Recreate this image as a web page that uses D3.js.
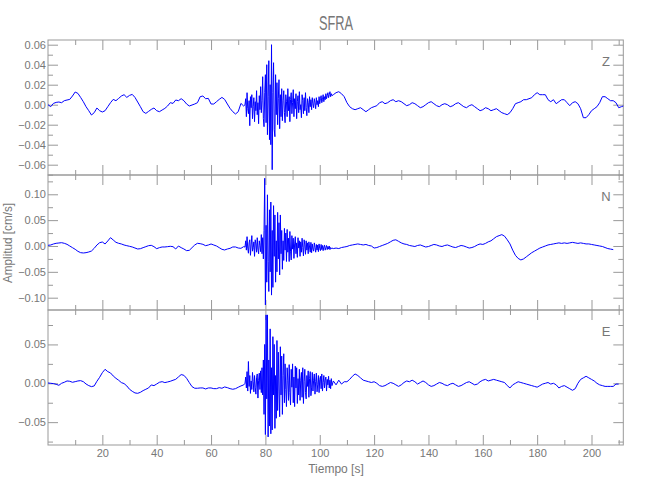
<!DOCTYPE html>
<html>
<head>
<meta charset="utf-8">
<script src="https://cdn.jsdelivr.net/npm/d3@7"></script>
<style>
  body { margin: 0; padding: 0; background: #fff; }
  text { font-family: "Liberation Sans", Arial, sans-serif; fill: #777; }
</style>
</head>
<body>
<div id="chart"></div>
<script>
// Station and component names
const station = "SFRA";
const components = ["Z", "N", "E"];

// Each trace: 1 s samples from t=0 to 72, 0.25 s samples from 72.5 to 104.5, 1 s samples from 105 on
const burstStart = 72.5, burstStep = 0.25, postStart = 105;

const zPre = [
  0.000, -0.002, 0.0013, 0.0023, 0.0027, 0.002, 0.004, 0.0047, 0.0053, 0.0087,
  0.0127, 0.0113, 0.0073, 0.003, -0.002, -0.006, -0.0103, -0.008, -0.0033, -0.006,
  -0.0073, -0.006, -0.002, 0.002, 0.0053, 0.004, 0.0063, 0.0087, 0.010, 0.0073,
  0.0093, 0.0103, 0.0073, 0.0027, -0.002, -0.007, -0.0087, -0.0067, -0.0047, -0.0033,
  -0.006, -0.007, -0.0053, -0.0037, -0.0013, 0.002, 0.0013, 0.0047, 0.004, 0.006,
  0.004, 0.0007, -0.0013, -0.0003, 0.0007, 0.002, 0.008, 0.0087, 0.006, 0.0063,
  0.0007, 0.0007, 0.003, 0.0053, 0.0073, 0.0053, 0.0007, -0.0037, -0.007, -0.0093,
  -0.007, 0.0013, -0.0013
];
const zBurst = [
  0.000, 0.006, -0.012, 0.012, -0.004, -0.009, 0.004, -0.021, 0.008, -0.003,
  0.010, -0.014, -0.002, 0.007, -0.017, 0.003, -0.006, 0.014, -0.010, 0.002,
  -0.019, 0.009, -0.005,
  0.018, -0.008, 0.004, 0.028, -0.014, -0.022, 0.012, 0.030,
  -0.018, 0.040, -0.030, 0.008, 0.044, -0.035,
  0.020, -0.040, 0.060, -0.065,
  0.012, 0.042, -0.025, -0.032, 0.030, -0.010,
  0.022, -0.020, 0.006, 0.025, -0.024, 0.010, -0.012, 0.016,
  -0.016, 0.004, 0.014, -0.008, -0.018, 0.010, 0.003, -0.012, 0.016, -0.006,
  0.008, -0.017, 0.005, 0.012, -0.009, 0.002,
  0.015, -0.012, 0.006, -0.004, 0.011, -0.014, 0.003, 0.009, -0.008, 0.013,
  -0.005, 0.000, -0.013, 0.010, 0.004, -0.009, 0.007, -0.006, 0.012, -0.003,
  -0.011, 0.006, 0.002, -0.008,
  0.008, -0.002, 0.005, -0.005, 0.007, 0.001, -0.003, 0.006, 0.002, -0.004,
  0.007, 0.000, 0.004, -0.002, 0.008, 0.001,
  0.006, 0.009, 0.002, 0.005, 0.010, 0.003, 0.008, 0.005, 0.011, 0.006,
  0.009, 0.012, 0.007, 0.010, 0.013, 0.008, 0.011, 0.009
];
const zPost = [
  0.010, 0.012, 0.013, 0.011, 0.008, 0.002, -0.002, -0.004, -0.005, -0.004,
  -0.003, -0.005, -0.007, -0.005, -0.003, -0.002, -0.001, 0.002, 0.003, 0.001,
  0.002, 0.004, 0.005, 0.003, 0.004, 0.003, 0.001, -0.001, 0.000, 0.002,
  0.001, -0.001, -0.003, -0.002, 0.000, 0.002, 0.003, 0.001, -0.001, -0.002,
  0.000, 0.001, 0.000, -0.002, -0.001, 0.001, 0.002, 0.000, -0.002, -0.003,
  -0.001, 0.000, -0.002, -0.004, -0.006, -0.005, -0.003, -0.004, -0.006, -0.005,
  -0.004, -0.006, -0.008, -0.009, -0.010, -0.008, -0.004, 0.001, 0.002, 0.003,
  0.005, 0.005, 0.006, 0.007, 0.010, 0.012, 0.010, 0.010, 0.010, 0.005,
  0.003, 0.005, 0.001, 0.003, 0.005, 0.005, 0.002, -0.001, 0.002, 0.003,
  0.001, -0.004, -0.013, -0.013, -0.010, -0.006, -0.004, -0.002, 0.002, 0.008,
  0.008, 0.006, 0.004, 0.004, 0.002, -0.003, -0.002, -0.001
];

const nPre = [
  0.0013, 0.0019, 0.0039, 0.0052, 0.0058, 0.0064, 0.0052, 0.0032, 0.000, -0.0032,
  -0.0064, -0.0103, -0.0129, -0.0135, -0.0129, -0.0116, -0.0097, -0.0045, 0.0019, 0.0064,
  0.0077, 0.0039, 0.0097, 0.0161, 0.0116, 0.0071, 0.0052, 0.0039, 0.0019, 0.0006,
  -0.0006, -0.0019, -0.0039, -0.0058, -0.0052, -0.0032, -0.0013, 0.0006, 0.0013, -0.0013,
  -0.0052, -0.0032, -0.0019, -0.0019, -0.0013, -0.0006, -0.0013, -0.0058, 0.000, -0.0032,
  -0.0058, -0.009, -0.0084, -0.0032, 0.0019, 0.0052, 0.0045, 0.0032, 0.0006, 0.0019,
  0.0039, 0.0019, 0.000, -0.0032, -0.0064, -0.0077, -0.0058, -0.0045, -0.0019, -0.0019,
  -0.0039, -0.0045, -0.0013
];
const nBurst = [
  -0.002, 0.010, -0.008, 0.018, -0.004, -0.014, 0.006, 0.012, -0.018, 0.002,
  0.020, -0.010, -0.003, 0.008, -0.020, 0.012, 0.004, -0.012, 0.016, -0.006,
  -0.015, 0.010, 0.001, -0.011, 0.022,
  -0.015, 0.016, -0.025, 0.030,
  0.131, -0.114,
  0.040, -0.070, 0.099, -0.030, -0.088, 0.070,
  -0.050, 0.085, -0.095, 0.030, -0.080, 0.078, -0.020,
  0.060, -0.070, 0.010, -0.050, 0.065, -0.025, 0.045, -0.056, 0.060, -0.015,
  0.030, -0.045, 0.010, -0.028, 0.034, -0.008, 0.025, -0.030, 0.032, -0.012,
  0.015, -0.030, 0.028, -0.010, -0.027,
  0.020, -0.006, 0.015, -0.024, 0.004, 0.018, -0.015, 0.006, -0.022, 0.016,
  -0.004, 0.010, -0.020, 0.008, -0.012, 0.015, -0.003, -0.019, 0.012, 0.002,
  -0.016, 0.010, -0.008, 0.006, -0.015, 0.008, -0.002, -0.012, 0.007,
  -0.013, 0.004, -0.006, -0.010, 0.006, -0.003, -0.012, 0.003, -0.008, 0.002,
  -0.011, 0.004, -0.005, -0.009, 0.003, -0.007, 0.001, -0.009, -0.002, 0.002,
  -0.008, -0.003, 0.001, -0.007, -0.001, -0.006, 0.000, -0.007, -0.003, -0.005,
  -0.004
];
const nPost = [
  -0.005, -0.004, -0.005, -0.003, -0.002, -0.001, 0.001, 0.002, 0.003, 0.004,
  0.003, 0.002, 0.003, 0.001, 0.000, -0.004, -0.003, -0.001, 0.001, 0.003,
  0.005, 0.008, 0.011, 0.012, 0.009, 0.006, 0.004, 0.003, 0.001, 0.000,
  -0.001, 0.001, 0.002, 0.000, -0.002, -0.001, 0.001, 0.003, 0.002, 0.000,
  -0.001, 0.001, 0.002, 0.000, -0.002, -0.003, -0.001, 0.001, 0.000, -0.002,
  -0.004, -0.003, -0.001, 0.002, 0.004, 0.003, 0.005, 0.008, 0.010, 0.014,
  0.018, 0.020, 0.022, 0.019, 0.012, 0.004, -0.008, -0.018, -0.024, -0.027,
  -0.025, -0.021, -0.017, -0.013, -0.010, -0.007, -0.004, -0.002, 0.000, 0.002,
  0.003, 0.004, 0.005, 0.006, 0.005, 0.006, 0.005, 0.006, 0.007, 0.006,
  0.005, 0.006, 0.005, 0.004, 0.004, 0.003, 0.002, 0.001, 0.000, -0.001,
  -0.003, -0.005, -0.006, -0.007
];

const ePre = [
  0.0004, 0.000, -0.0004, -0.0013, -0.0026, 0.000, 0.0013, 0.003, 0.0026, 0.0013,
  0.0021, 0.003, 0.0034, 0.0021, -0.0009, -0.003, -0.0043, -0.0034, 0.0026, 0.0077,
  0.0137, 0.018, 0.015, 0.0133, 0.0094, 0.0064, 0.0039, 0.0009, -0.0004, -0.0034,
  -0.0077, -0.0103, -0.0124, -0.0129, -0.0116, -0.0094, -0.0077, -0.006, -0.0021, -0.003,
  -0.0009, 0.0013, 0.0021, 0.0009, 0.0017, 0.0026, 0.0039, 0.0051, 0.0082, 0.0112,
  0.0103, 0.0064, 0.0009, -0.0043, -0.0064, -0.0064, -0.006, -0.006, -0.0073, -0.006,
  -0.006, -0.0069, -0.0069, -0.0056, -0.0064, -0.0047, -0.0056, -0.0069, -0.0077, -0.0069,
  -0.0051, -0.0034, -0.0021
];
const eBurst = [
  0.000, 0.008, -0.006, 0.015, -0.010, 0.028, -0.004, 0.010, -0.013, 0.003,
  -0.008, 0.014, 0.002, -0.011, 0.010, -0.005, -0.014, 0.007, 0.012, -0.019,
  0.004, 0.013, -0.008, 0.016, -0.012,
  0.020, -0.015, 0.030, -0.040, 0.050, -0.066,
  0.088, -0.020, 0.088, -0.069, 0.030, -0.055, 0.070, -0.065,
  0.020, -0.060, 0.060, -0.015, 0.050, -0.058, 0.010, -0.045, 0.055, -0.035,
  0.040, -0.010, -0.043, 0.047, -0.015, 0.035, -0.040, 0.010, 0.038, -0.025,
  0.025, -0.008, -0.030, 0.020, 0.004, -0.022, 0.024, -0.012, -0.028, 0.018,
  -0.005, 0.025, -0.025, 0.008, -0.030, 0.022, -0.006, 0.020, -0.026, 0.006,
  -0.015, 0.018, -0.022, 0.004, 0.014, -0.018, 0.020, -0.026, 0.002, 0.018,
  -0.012, -0.020, 0.010, -0.004, 0.016, -0.018, 0.006, 0.015, -0.016, -0.006,
  0.014, -0.010, 0.004, 0.012, -0.014, 0.002, 0.013, -0.011, -0.002, 0.010,
  -0.012, 0.005, 0.009, -0.007, 0.012, -0.010, 0.001, 0.010, -0.006, 0.004,
  0.008, -0.010, 0.005, -0.002, 0.009, -0.006, 0.004, -0.007, 0.006, -0.003
];
const ePost = [
  0.003, -0.002, 0.004, -0.001, 0.002, 0.002, 0.005, 0.009, 0.012, 0.010,
  0.007, 0.004, 0.003, 0.002, 0.001, 0.002, 0.000, -0.003, -0.004, -0.003,
  -0.001, 0.001, 0.000, -0.002, -0.004, -0.002, 0.001, 0.003, 0.002, 0.004,
  0.002, -0.001, 0.001, 0.003, 0.001, -0.002, -0.004, -0.003, -0.001, 0.001,
  0.000, -0.002, -0.003, -0.001, 0.000, -0.002, -0.004, -0.003, -0.001, 0.001,
  0.002, 0.000, -0.002, -0.001, 0.002, 0.004, 0.005, 0.003, 0.004, 0.005,
  0.004, 0.003, 0.002, 0.001, -0.003, -0.006, -0.002, 0.000, 0.002, 0.001,
  0.000, -0.001, -0.002, -0.003, -0.004, -0.005, -0.003, -0.001, 0.000, 0.001,
  -0.001, 0.000, -0.002, -0.006, -0.004, -0.003, -0.005, -0.007, -0.009, -0.007,
  0.000, 0.005, 0.007, 0.009, 0.007, 0.005, 0.003, 0.000, -0.002, -0.003,
  -0.004, -0.004, -0.004, -0.004, -0.001, -0.001
];

// Axis ranges and ticks
const timeRange = [0, 211.7];
const timeMajor = [20, 40, 60, 80, 100, 120, 140, 160, 180, 200];
const timeMinor = [10, 30, 50, 70, 90, 110, 130, 150, 170, 190, 210];
const ampRanges = [[-0.0703, 0.0647], [-0.1238, 0.1373], [-0.0794, 0.0943]];
const ampMajor = [
  [-0.06, -0.04, -0.02, 0, 0.02, 0.04, 0.06],
  [-0.10, -0.05, 0, 0.05, 0.10],
  [-0.05, 0, 0.05]
];
const ampMinor = [
  [-0.07, -0.05, -0.03, -0.01, 0.01, 0.03, 0.05],
  [-0.075, -0.025, 0.025, 0.075, 0.125],
  [-0.075, -0.025, 0.025, 0.075]
];

function buildTrace(pre, burst, post) {
  const pts = [];
  pre.forEach((v, i) => pts.push([i, v]));
  burst.forEach((v, i) => pts.push([burstStart + i * burstStep, v]));
  post.forEach((v, i) => pts.push([postStart + i, v]));
  return pts;
}
const traces = [
  buildTrace(zPre, zBurst, zPost),
  buildTrace(nPre, nBurst, nPost),
  buildTrace(ePre, eBurst, ePost)
];

const width = 650, height = 500;
const plotLeft = 48, plotRight = 623.3, plotTop = 40, panelH = 135;
const axisColor = "#999";

const svg = d3.select("#chart").append("svg")
  .attr("width", width)
  .attr("height", height);

const x = d3.scaleLinear().domain(timeRange).range([plotLeft, plotRight]);

svg.append("defs").append("clipPath").attr("id", "plotclip")
  .append("rect").attr("x", plotLeft).attr("y", plotTop)
  .attr("width", plotRight - plotLeft).attr("height", panelH * 3);

function styleAxis(g) {
  g.select(".domain").remove();
  g.selectAll(".tick line").attr("stroke", axisColor);
  g.selectAll(".tick text").attr("fill", "#777").attr("font-size", 11)
    .style("font-family", "'Liberation Sans', Arial, sans-serif");
}

components.forEach((comp, k) => {
  const y0 = plotTop + k * panelH;
  const y = d3.scaleLinear().domain(ampRanges[k]).range([y0 + panelH, y0]);
  const g = svg.append("g");

  // time ticks, top and bottom, pointing inward
  const isLast = k === components.length - 1;
  g.append("g").attr("transform", `translate(0,${y0 + panelH})`)
    .call(d3.axisBottom(x).tickValues(timeMajor).tickSize(-10).tickPadding(4)
      .tickFormat(isLast ? d3.format("d") : () => ""))
    .call(styleAxis);
  g.append("g").attr("transform", `translate(0,${y0 + panelH})`)
    .call(d3.axisBottom(x).tickValues(timeMinor).tickSize(-5).tickFormat(() => ""))
    .call(styleAxis);
  g.append("g").attr("transform", `translate(0,${y0})`)
    .call(d3.axisTop(x).tickValues(timeMajor).tickSize(-10).tickFormat(() => ""))
    .call(styleAxis);
  g.append("g").attr("transform", `translate(0,${y0})`)
    .call(d3.axisTop(x).tickValues(timeMinor).tickSize(-5).tickFormat(() => ""))
    .call(styleAxis);

  // amplitude ticks, left and right
  g.append("g").attr("transform", `translate(${plotLeft},0)`)
    .call(d3.axisLeft(y).tickValues(ampMajor[k]).tickSize(-10).tickPadding(2).tickFormat(d3.format(".2f")))
    .call(styleAxis);
  g.append("g").attr("transform", `translate(${plotLeft},0)`)
    .call(d3.axisLeft(y).tickValues(ampMinor[k]).tickSize(-5).tickFormat(() => ""))
    .call(styleAxis);
  g.append("g").attr("transform", `translate(${plotRight},0)`)
    .call(d3.axisRight(y).tickValues(ampMajor[k]).tickSize(-10).tickFormat(() => ""))
    .call(styleAxis);
  g.append("g").attr("transform", `translate(${plotRight},0)`)
    .call(d3.axisRight(y).tickValues(ampMinor[k]).tickSize(-5).tickFormat(() => ""))
    .call(styleAxis);

  // frame
  g.append("rect")
    .attr("x", plotLeft).attr("y", y0)
    .attr("width", plotRight - plotLeft).attr("height", panelH)
    .attr("fill", "none").attr("stroke", axisColor).attr("stroke-width", 1);

  // trace
  g.append("path")
    .datum(traces[k])
    .attr("clip-path", "url(#plotclip)")
    .attr("fill", "none")
    .attr("stroke", "#0000ff")
    .attr("stroke-width", 1)
    .attr("stroke-linejoin", "round")
    .attr("d", d3.line().x(d => x(d[0])).y(d => y(d[1])));

  // component label
  g.append("text")
    .attr("x", 606).attr("y", y0 + 26)
    .attr("text-anchor", "middle")
    .attr("font-size", 13)
    .text(comp);
});

// title and axis titles
svg.append("text")
  .attr("x", 336).attr("y", 30)
  .attr("text-anchor", "middle")
  .attr("font-size", 21)
  .attr("textLength", 34).attr("lengthAdjust", "spacingAndGlyphs")
  .text(station);

svg.append("text")
  .attr("x", 336).attr("y", 473)
  .attr("text-anchor", "middle")
  .attr("font-size", 12)
  .text("Tiempo [s]");

svg.append("text")
  .attr("transform", "translate(12,243) rotate(-90)")
  .attr("text-anchor", "middle")
  .attr("font-size", 12)
  .attr("textLength", 80).attr("lengthAdjust", "spacingAndGlyphs")
  .text("Amplitud [cm/s]");
</script>
</body>
</html>
